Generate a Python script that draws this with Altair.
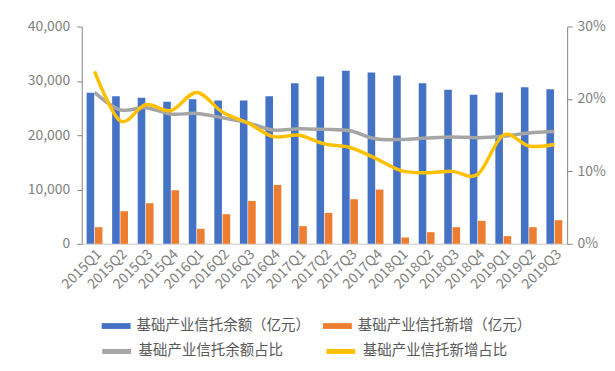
import altair as alt
import pandas as pd

quarters = ["2015Q1", "2015Q2", "2015Q3", "2015Q4", "2016Q1", "2016Q2", "2016Q3", "2016Q4",
            "2017Q1", "2017Q2", "2017Q3", "2017Q4", "2018Q1", "2018Q2", "2018Q3", "2018Q4",
            "2019Q1", "2019Q2", "2019Q3"]
balance = [27800, 27150, 26900, 26150, 26600, 26400, 26400, 27150, 29550, 30800,
           31850, 31550, 31000, 29550, 28350, 27450, 27850, 28800, 28450]
new_add = [3060, 6000, 7470, 9860, 2760, 5450, 7900, 10840, 3250, 5700,
           8210, 9980, 1160, 2140, 3060, 4230, 1410, 3060, 4350]
balance_share = [20.9, 18.5, 18.8, 17.9, 18.0, 17.4, 16.7, 15.7, 15.9, 15.8,
                 15.6, 14.5, 14.4, 14.6, 14.75, 14.65, 14.85, 15.3, 15.5]
new_share = [23.8, 17.0, 19.2, 18.4, 20.9, 18.2, 16.7, 14.8, 15.0, 13.8,
             13.3, 11.8, 10.1, 9.8, 10.0, 9.6, 15.0, 13.5, 13.7]

S_BAL = "基础产业信托余额（亿元）"
S_NEW = "基础产业信托新增（亿元）"
S_BSH = "基础产业信托余额占比"
S_NSH = "基础产业信托新增占比"

n = len(quarters)
bars_df = pd.DataFrame({
    "q": quarters * 2,
    "series": [S_BAL] * n + [S_NEW] * n,
    "value": balance + new_add,
})
lines_df = pd.DataFrame({
    "q": quarters * 2,
    "series": [S_BSH] * n + [S_NSH] * n,
    "value": [v / 100 for v in balance_share + new_share],
})

FONT = "Noto Sans CJK SC"
GRAY_TXT = "#7f7f7f"
AX = "#868686"

x_enc = alt.X(
    "q:N", sort=quarters, title=None,
    scale=alt.Scale(paddingInner=0.38, paddingOuter=0.19),
    axis=alt.Axis(labelAngle=-45, labelFontSize=14, labelColor=GRAY_TXT, labelFont=FONT,
                  domainColor="#D9D9D9", domainWidth=1.5, ticks=False, labelPadding=3),
)

bars = alt.Chart(bars_df).mark_bar().encode(
    x=x_enc,
    xOffset=alt.XOffset("series:N", sort=[S_BAL, S_NEW], scale=alt.Scale(paddingInner=0.08)),
    y=alt.Y("value:Q", scale=alt.Scale(domain=[0, 40000], nice=False),
            axis=alt.Axis(values=[0, 10000, 20000, 30000, 40000], format=",.0f", title=None, grid=False,
                          domainColor=AX, tickColor=AX, tickSize=5, labelColor=GRAY_TXT,
                          labelFont=FONT, labelFontSize=14, labelPadding=7)),
    color=alt.Color("series:N", sort=[S_BAL, S_NEW],
                    scale=alt.Scale(domain=[S_BAL, S_NEW], range=["#4472C4", "#ED7D31"]),
                    legend=alt.Legend(title=None, orient="none", legendX=19, legendY=285,
                                      direction="horizontal", symbolType="M-1,-0.2H1V0.2H-1Z",
                                      symbolSize=841, labelFont=FONT, labelFontSize=14.5,
                                      labelColor="#595959", columnPadding=12, padding=0,
                                      labelOffset=5, labelLimit=300)),
)

lines = alt.Chart(lines_df).mark_line(interpolate="cardinal", strokeWidth=3.5).encode(
    x=alt.X("q:N", sort=quarters, title=None),
    y=alt.Y("value:Q", scale=alt.Scale(domain=[0, 0.3], nice=False),
            axis=alt.Axis(orient="right", values=[0, 0.1, 0.2, 0.3], format=".0%", title=None,
                          grid=False, domainColor=AX, tickColor=AX, tickSize=5,
                          labelColor=GRAY_TXT, labelFont=FONT, labelFontSize=14, labelPadding=5)),
    color=alt.Color("series:N", sort=[S_BSH, S_NSH],
                    scale=alt.Scale(domain=[S_BSH, S_NSH], range=["#A5A5A5", "#FFC000"]),
                    legend=alt.Legend(title=None, orient="none", legendX=18, legendY=309,
                                      direction="horizontal", symbolType="stroke",
                                      symbolStrokeWidth=5, symbolSize=841, labelFont=FONT,
                                      labelFontSize=14.5, labelColor="#595959", columnPadding=33,
                                      padding=0, labelOffset=5, labelLimit=300)),
)

chart = alt.layer(bars, lines).resolve_scale(
    y="independent", color="independent"
).resolve_legend(color="independent").properties(
    width=487, height=218,
    padding={"left": 74, "top": 18, "right": 40, "bottom": 118},
    autosize=alt.AutoSizeParams(type="none"),
    background="white",
).configure_view(stroke=None)

chart.save("out.html", embed_options={"renderer": "svg", "actions": False})
